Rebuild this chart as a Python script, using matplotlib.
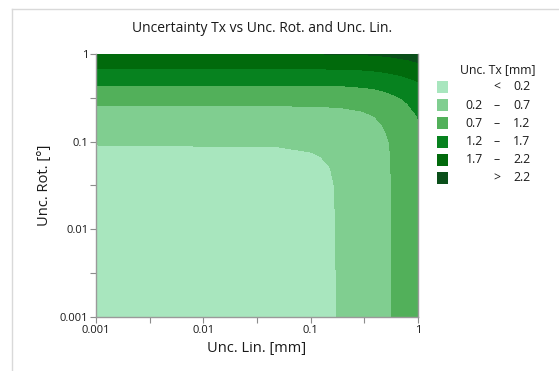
import numpy as np
import matplotlib.pyplot as plt
from matplotlib.patches import Rectangle
from matplotlib.lines import Line2D

plt.rcParams['font.family'] = ['Open Sans', 'DejaVu Sans']

# grid of the chart (Unc. Lin. [mm] on x, Unc. Rot. [deg] on y)
unc_lin = [0.001, 0.05, 0.1, 0.125, 0.15, 0.2, 0.3, 0.4, 0.5, 0.6, 0.7, 0.8, 1.0]
unc_rot = [0.001, 0.03, 0.05, 0.07, 0.1, 0.15, 0.2, 0.3, 0.4, 0.5, 0.6, 0.7, 0.8, 0.9, 1.0]

# Unc. Tx [mm], one row per unc_rot value
unc_tx = [
    [0.00, 0.06, 0.12, 0.14, 0.17, 0.23, 0.36, 0.49, 0.62, 0.74, 0.84, 0.93, 1.10],
    [0.06, 0.085, 0.13, 0.155, 0.18, 0.238, 0.365, 0.494, 0.623, 0.742, 0.842, 0.932, 1.102],
    [0.10, 0.12, 0.15, 0.174, 0.197, 0.25, 0.37, 0.50, 0.63, 0.75, 0.85, 0.94, 1.10],
    [0.148, 0.16, 0.187, 0.205, 0.225, 0.273, 0.389, 0.512, 0.637, 0.755, 0.853, 0.942, 1.11],
    [0.22, 0.23, 0.25, 0.262, 0.28, 0.32, 0.42, 0.54, 0.66, 0.77, 0.87, 0.96, 1.12],
    [0.38, 0.38, 0.40, 0.406, 0.42, 0.44, 0.52, 0.62, 0.73, 0.83, 0.92, 1.00, 1.16],
    [0.53, 0.53, 0.54, 0.549, 0.56, 0.58, 0.64, 0.72, 0.82, 0.91, 0.99, 1.07, 1.22],
    [0.83, 0.83, 0.84, 0.842, 0.85, 0.86, 0.90, 0.96, 1.04, 1.11, 1.18, 1.25, 1.38],
    [1.10, 1.10, 1.11, 1.109, 1.11, 1.12, 1.16, 1.20, 1.26, 1.33, 1.38, 1.44, 1.56],
    [1.34, 1.34, 1.34, 1.348, 1.35, 1.36, 1.39, 1.43, 1.48, 1.53, 1.58, 1.63, 1.73],
    [1.55, 1.55, 1.55, 1.557, 1.56, 1.57, 1.59, 1.63, 1.67, 1.72, 1.76, 1.81, 1.90],
    [1.74, 1.74, 1.74, 1.746, 1.75, 1.76, 1.78, 1.81, 1.85, 1.89, 1.93, 1.97, 2.06],
    [1.90, 1.90, 1.90, 1.905, 1.91, 1.91, 1.93, 1.96, 2.00, 2.04, 2.08, 2.12, 2.195],
    [2.05, 2.05, 2.05, 2.055, 2.06, 2.06, 2.08, 2.11, 2.14, 2.18, 2.22, 2.25, 2.33],
    [2.195, 2.196, 2.198, 2.1996, 2.2016, 2.207, 2.224, 2.249, 2.281, 2.316, 2.350, 2.384, 2.455],
]

levels = [0.2, 0.7, 1.2, 1.7, 2.2]
colors = ['#a8e6be', '#80ce90', '#52b05a', '#07821f', '#016a0c', '#0a4f1a']

fig = plt.figure(figsize=(5.59, 3.71), dpi=100)
ax = fig.add_axes([0.1717, 0.1456, 0.5761, 0.7088])

bounds = [-1.0] + levels + [10.0]
ax.contourf(unc_lin, unc_rot, np.array(unc_tx), levels=bounds, colors=colors)

ax.set_xscale('log')
ax.set_yscale('log')
ax.set_xlim(0.001, 1)
ax.set_ylim(0.001, 1)

major = [0.001, 0.01, 0.1, 1]
major_lbl = ['0.001', '0.01', '0.1', '1']
minor = [10 ** -2.5, 10 ** -1.5, 10 ** -0.5]
for axis in (ax.xaxis, ax.yaxis):
    axis.set_ticks(major)
    axis.set_ticklabels(major_lbl)
    axis.set_ticks(minor, minor=True)
    axis.set_ticklabels([], minor=True)
ax.tick_params(which='both', direction='out', length=4, width=0.8,
               color='#8c8c8c', labelsize=8, pad=1.5, labelcolor='#1a1a1a')

for side in ['left', 'bottom', 'right']:
    ax.spines[side].set_color('#9a9a9a')
    ax.spines[side].set_linewidth(1.0)
ax.spines['top'].set_visible(False)

ax.set_xlabel('Unc. Lin. [mm]', fontsize=10.5, color='#1a1a1a', labelpad=4)
ax.set_ylabel('Unc. Rot. [°]', fontsize=10.5, color='#1a1a1a', labelpad=6)
fig.text(0.469, 0.922, 'Uncertainty Tx vs Unc. Rot. and Unc. Lin.',
         ha='center', va='center', fontsize=10, color='#1a1a1a')

# frame lines of the panel
fig.add_artist(Line2D([12 / 559, 1], [1 - 9 / 371, 1 - 9 / 371], color='#d9d9d9', lw=1))
fig.add_artist(Line2D([12 / 559, 12 / 559], [0, 1 - 9 / 371], color='#d9d9d9', lw=1))

# legend
W, H = 559.0, 371.0
fig.text(498 / W, 1 - 70 / H, 'Unc. Tx [mm]', ha='center', va='center',
         fontsize=8.8, color='#1a1a1a')
labels = [('', '<', '%g' % levels[0])]
for lo, hi in zip(levels[:-1], levels[1:]):
    labels.append(('%g' % lo, '\u2013', '%g' % hi))
labels.append(('', '>', '%g' % levels[-1]))
for i, (a, dash, b) in enumerate(labels):
    y = 87 + i * 18.2
    fig.add_artist(Rectangle((437 / W, 1 - (y + 6) / H), 11 / W, 12 / H,
                             transform=fig.transFigure, color=colors[i], lw=0))
    kw = dict(va='center', fontsize=8.8, color='#1a1a1a')
    fig.text(483 / W, 1 - y / H, a, ha='right', **kw)
    fig.text(497 / W, 1 - y / H, dash, ha='center', **kw)
    fig.text(530 / W, 1 - y / H, b, ha='right', **kw)

fig.savefig('out.png', dpi=100)
